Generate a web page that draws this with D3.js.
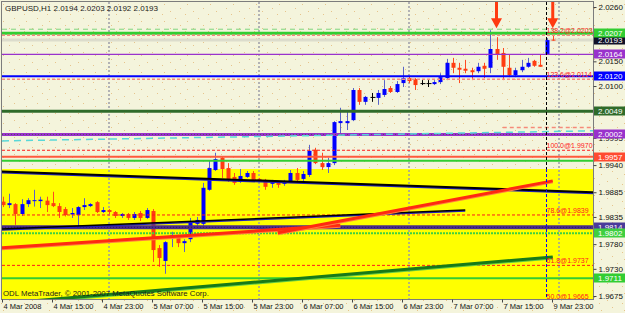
<!DOCTYPE html>
<html>
<head>
<meta charset="utf-8">
<script src="https://cdn.jsdelivr.net/npm/d3@7"></script>
<style>
  body { margin: 0; background: #f4f4dc; }
  svg { display: block; font-family: "Liberation Sans", Arial, sans-serif; font-size: 8px; }
</style>
</head>
<body>
<div id="chart"></div>
<script>
// GBPUSD H1 bars, 4 Mar 2008 06:00 .. 9 Mar 2008
var opens  = [1.9866,1.9859,1.9861,1.9841,1.9861,1.9867,1.9867,1.9868,1.9863,1.9857,1.9851,1.9840,1.9839,1.9855,1.9857,1.9865,1.9845,1.9849,1.9845,1.9837,
              1.9841,1.9833,1.9843,1.9833,1.9847,1.9772,1.9746,1.9793,1.9795,1.9782,1.9790,1.9821,1.9821,1.9890,1.9930,1.9955,1.9934,1.9916,1.9906,1.9916,
              1.9924,1.9912,1.9910,1.9902,1.9906,1.9902,1.9906,1.9924,1.9912,1.9920,1.9971,1.9944,1.9936,1.9944,2.0025,2.0025,2.0031,2.0092,2.0068,2.0078,
              2.0076,2.0082,2.0096,2.0088,2.0106,2.0116,2.0114,2.0106,2.0106,2.0104,2.0108,2.0116,2.0147,2.0137,2.0135,2.0132,2.0130,2.0141,2.0137,2.0175,
              2.0167,2.0137,2.0122,2.0132,2.0139,2.0151,2.0143,2.0163,2.0194];
var highs  = [1.9876,1.9882,1.9863,1.9871,1.9873,1.9890,1.9876,1.9876,1.9886,1.9863,1.9855,1.9853,1.9857,1.9873,1.9863,1.9867,1.9855,1.9851,1.9847,1.9843,
              1.9843,1.9845,1.9847,1.9853,1.9851,1.9778,1.9786,1.9805,1.9799,1.9790,1.9833,1.9835,1.9904,1.9950,1.9965,1.9957,1.9944,1.9924,1.9932,1.9928,
              1.9928,1.9914,1.9912,1.9910,1.9908,1.9910,1.9930,1.9934,1.9928,1.9981,1.9975,1.9965,1.9955,2.0029,2.0056,2.0048,2.0096,2.0096,2.0080,2.0086,
              2.0092,2.0112,2.0100,2.0110,2.0139,2.0120,2.0116,2.0112,2.0112,2.0112,2.0126,2.0155,2.0157,2.0147,2.0153,2.0137,2.0147,2.0147,2.0213,2.0199,
              2.0177,2.0163,2.0137,2.0153,2.0157,2.0153,2.0163,2.0197,2.0203];
var lows   = [1.9855,1.9853,1.9819,1.9837,1.9855,1.9856,1.9853,1.9845,1.9855,1.9833,1.9836,1.9833,1.9815,1.9849,1.9855,1.9843,1.9843,1.9841,1.9833,1.9833,
              1.9829,1.9829,1.9827,1.9831,1.9744,1.9734,1.9720,1.9774,1.9774,1.9764,1.9784,1.9817,1.9817,1.9888,1.9928,1.9914,1.9906,1.9900,1.9904,1.9914,
              1.9906,1.9906,1.9890,1.9894,1.9894,1.9898,1.9904,1.9906,1.9904,1.9916,1.9942,1.9930,1.9924,1.9940,2.0001,2.0011,2.0029,2.0062,2.0062,2.0068,
              2.0062,2.0078,2.0086,2.0086,2.0098,2.0106,2.0092,2.0102,2.0098,2.0102,2.0104,2.0112,2.0126,2.0106,2.0126,2.0112,2.0126,2.0116,2.0126,2.0153,
              2.0112,2.0118,2.0118,2.0128,2.0137,2.0139,2.0139,2.0163,2.0192];
var closes = [1.9859,1.9863,1.9841,1.9861,1.9869,1.9869,1.9870,1.9859,1.9857,1.9845,1.9839,1.9843,1.9855,1.9859,1.9861,1.9845,1.9849,1.9845,1.9837,1.9841,
              1.9833,1.9841,1.9833,1.9849,1.9768,1.9752,1.9784,1.9798,1.9782,1.9786,1.9823,1.9829,1.9894,1.9934,1.9952,1.9932,1.9910,1.9904,1.9918,1.9924,
              1.9910,1.9908,1.9896,1.9908,1.9900,1.9906,1.9924,1.9910,1.9922,1.9969,1.9944,1.9936,1.9944,2.0027,2.0029,2.0029,2.0092,2.0068,2.0078,2.0078,
              2.0086,2.0094,2.0088,2.0104,2.0116,2.0110,2.0102,2.0106,2.0106,2.0108,2.0118,2.0147,2.0137,2.0133,2.0131,2.0128,2.0139,2.0135,2.0175,2.0163,
              2.0139,2.0122,2.0132,2.0139,2.0147,2.0141,2.0139,2.0193,2.0193];

var timeLabels    = ["4 Mar 2008","4 Mar 15:00","4 Mar 23:00","5 Mar 07:00","5 Mar 15:00","5 Mar 23:00",
                     "6 Mar 07:00","6 Mar 15:00","6 Mar 23:00","7 Mar 07:00","7 Mar 15:00","9 Mar 23:00"];
var timeLabelBars = [1, 9, 17, 25, 33, 41, 49, 57, 65, 73, 81, 89];
var gridBars      = [17, 41, 65, 89];
// 2.0205 and 2.0045 sit under the line labels in the terminal, so only the visible ticks are kept
var priceTicks    = [2.0260, 2.0150, 2.0100, 1.9995, 1.9940, 1.9885, 1.9835, 1.9780, 1.9730, 1.9675];

// horizontal line objects
var levelPrices = [2.0215, 2.0207, 2.0164, 2.0120, 2.0049, 2.0002, 1.9957, 1.9949, 1.9814, 1.9802, 1.9711];
var levelBoxed  = [false,  true,   true,   true,   true,   true,   true,   false,  true,   true,   true];

// fibonacci levels
var fibLevels = ["50.0", "61.8", "78.6", "100.0", "123.6", "138.2"];
var fibPrices = [1.9665, 1.9737, 1.9839, 1.9970, 2.0114, 2.0203];
var fibBar = 87;

// trendlines [bar, price]
var trendStart = [[0, 1.9927], [-1, 1.9810], [0, 1.9773], [44, 1.9803], [0, 1.9660], [0, 1.9989], [80, 2.0016]];
var trendEnd   = [[88, 1.9888], [74, 1.9849], [54, 1.9818], [88, 1.9908], [88, 1.9754], [88, 2.0008], [88, 2.0016]];

var zoneTop = 1.9932, zoneBottom = 1.9600;
var bidPrice = 2.0193;
var arrowBars = [79, 88];
var arrowPrice = 2.0217;
var vlineBar = 87;

var W = 625, H = 313;
var P = {left: 2, right: 593, top: 2, bottom: 299};

var x = d3.scaleLinear().domain([0, 88]).range([2.75, 552.75]);
var y = d3.scaleLinear().domain([1.9675, 2.0260]).range([296, 7]);

var svg = d3.select("#chart").append("svg")
  .attr("width", W).attr("height", H);

var defs = svg.append("defs");
defs.append("clipPath").attr("id", "plotclip")
  .append("rect").attr("x", P.left).attr("y", P.top)
  .attr("width", P.right - P.left).attr("height", P.bottom - P.top);

var pat = defs.append("pattern").attr("id", "speck")
  .attr("width", 23).attr("height", 17).attr("patternUnits", "userSpaceOnUse");
pat.append("rect").attr("width", 23).attr("height", 17).attr("fill", "#f4f4dc");
[[3, 4], [14, 1], [9, 11], [19, 8], [1, 14]].forEach(function(p) {
  pat.append("rect").attr("x", p[0]).attr("y", p[1]).attr("width", 1).attr("height", 1).attr("fill", "#e6c48c");
});

svg.append("rect").attr("width", W).attr("height", H).attr("fill", "url(#speck)");

var plot = svg.append("g").attr("clip-path", "url(#plotclip)");

// yellow zone
plot.append("rect")
  .attr("x", P.left).attr("width", P.right - P.left)
  .attr("y", y(zoneTop)).attr("height", y(zoneBottom) - y(zoneTop))
  .attr("fill", "#ffff00");

// vertical grid
plot.selectAll(".vgrid").data(gridBars).enter().append("line")
  .attr("x1", function(d) { return x(d); }).attr("x2", function(d) { return x(d); })
  .attr("y1", P.top).attr("y2", P.bottom)
  .attr("stroke", "#9c9ca8").attr("stroke-width", 1.5).attr("stroke-dasharray", "2,2");

// bid line
plot.append("line")
  .attr("x1", P.left).attr("x2", P.right)
  .attr("y1", y(bidPrice)).attr("y2", y(bidPrice))
  .attr("stroke", "#dcdccc").attr("stroke-width", 3);

// candles
var bars = d3.range(opens.length);
var candle = plot.selectAll(".bar").data(bars).enter().append("g");

function barColor(i) {
  var d = closes[i] - opens[i];
  if (Math.abs(d) < 0.00005) return "#000000";
  return d > 0 ? "#0000ff" : "#ff3c10";
}
function wickColor(i) {
  var d = closes[i] - opens[i];
  if (Math.abs(d) < 0.00005) return "#000000";
  return d > 0 ? "#5a64c8" : "#ff4a20";
}

candle.append("line")
  .attr("x1", function(i) { return Math.round(x(i)) + 0.5; })
  .attr("x2", function(i) { return Math.round(x(i)) + 0.5; })
  .attr("y1", function(i) { return y(highs[i]); })
  .attr("y2", function(i) { return y(lows[i]); })
  .attr("stroke", wickColor).attr("stroke-width", 1);

candle.append("rect")
  .attr("x", function(i) { return Math.round(x(i)) - 1.5; })
  .attr("width", function(i) { return Math.abs(closes[i] - opens[i]) < 0.00005 ? 5 : 4; })
  .attr("y", function(i) { return Math.min(y(opens[i]), y(closes[i])); })
  .attr("height", function(i) { return Math.max(1, Math.abs(y(opens[i]) - y(closes[i]))); })
  .attr("fill", barColor);

// horizontal levels
var levelStyle = [
  {c: "#7fd67f", w: 1,   dash: "5,4"},
  {c: "#32cd32", w: 3,   dash: null},
  {c: "#9932cc", w: 1.2, dash: null},
  {c: "#0000ff", w: 2,   dash: null},
  {c: "#2f6b2a", w: 3,   dash: null},
  {c: "#9932cc", w: 3,   dash: null},
  {c: "#ff5a3c", w: 2,   dash: null},
  {c: "#32cd32", w: 2,   dash: null},
  {c: "#4a2c8a", w: 4,   dash: null},
  {c: "#3fcf3f", w: 2,   dash: "2,1"},
  {c: "#32cd32", w: 2,   dash: null}
];
plot.selectAll(".lvl").data(levelPrices).enter().append("line")
  .attr("x1", P.left).attr("x2", P.right)
  .attr("y1", function(d) { return y(d); }).attr("y2", function(d) { return y(d); })
  .attr("stroke", function(d, i) { return levelStyle[i].c; })
  .attr("stroke-width", function(d, i) { return levelStyle[i].w; })
  .attr("stroke-dasharray", function(d, i) { return levelStyle[i].dash; });

// dotted texture on the two thick violet lines
[5, 8].forEach(function(k) {
  plot.append("line")
    .attr("x1", P.left).attr("x2", P.right)
    .attr("y1", y(levelPrices[k])).attr("y2", y(levelPrices[k]))
    .attr("stroke", k === 5 ? "#3a5a2a" : "#201050").attr("stroke-width", 1)
    .attr("stroke-dasharray", "1,2").attr("opacity", 0.7);
});

// fibonacci levels
plot.selectAll(".fib").data(fibPrices).enter().append("line")
  .attr("x1", P.left).attr("x2", P.right)
  .attr("y1", function(d) { return y(d); }).attr("y2", function(d) { return y(d); })
  .attr("stroke", function(d) { return d > 2.0100 ? "#f78a80" : "#ff1a1a"; })
  .attr("stroke-width", function(d) { return d > 2.0100 ? 1.5 : 1; })
  .attr("stroke-dasharray", "3,2");

// trendlines
var trendStyle = [
  {c: "#000000", w: 2,   dash: null, under: "#2020c0"},
  {c: "#000000", w: 1.5, dash: null, under: "#2020c0"},
  {c: "#ff2a10", w: 3,   dash: null, under: "#ff8040"},
  {c: "#ff2a10", w: 3,   dash: null, under: "#ff8040"},
  {c: "#187a18", w: 3,   dash: null, under: "#66cc44"},
  {c: "#59d8d8", w: 1.5, dash: "7,5", under: null},
  {c: "#f58a7a", w: 1.5, dash: "4,3", under: null}
];
var rayRight = [true, false, false, false, false, true, true];
var rayLeft  = [true, true, true, false, true, true, false];

function lineEnds(k) {
  var s = trendStart[k], e = trendEnd[k];
  var slope = (e[1] - s[1]) / (e[0] - s[0]);
  var b1 = rayLeft[k] ? x.invert(P.left) : s[0];
  var b2 = rayRight[k] ? x.invert(P.right) : e[0];
  return [b1, s[1] + slope * (b1 - s[0]), b2, s[1] + slope * (b2 - s[0])];
}
trendStart.forEach(function(s, k) {
  var L = lineEnds(k), st = trendStyle[k];
  if (st.under) {
    plot.append("line")
      .attr("x1", x(L[0])).attr("y1", y(L[1]) + 1).attr("x2", x(L[2])).attr("y2", y(L[3]) + 1)
      .attr("stroke", st.under).attr("stroke-width", st.w);
  }
  plot.append("line")
    .attr("x1", x(L[0])).attr("y1", y(L[1])).attr("x2", x(L[2])).attr("y2", y(L[3]))
    .attr("stroke", st.c).attr("stroke-width", st.w)
    .attr("stroke-dasharray", st.dash);
});

// vertical line at the fib anchor
plot.append("line")
  .attr("x1", x(vlineBar)).attr("x2", x(vlineBar))
  .attr("y1", P.top).attr("y2", y(zoneTop))
  .attr("stroke", "#000").attr("stroke-width", 1).attr("stroke-dasharray", "3,2");
plot.append("line")
  .attr("x1", x(vlineBar)).attr("x2", x(vlineBar))
  .attr("y1", y(zoneTop)).attr("y2", P.bottom)
  .attr("stroke", "#0000ff").attr("stroke-width", 1).attr("stroke-dasharray", "3,2");

// fib texts
plot.selectAll(".fibtxt").data(fibPrices).enter().append("text")
  .attr("x", x(fibBar))
  .attr("y", function(d) { return y(d) - 2; })
  .attr("fill", "#ff2020").attr("font-size", 7)
  .text(function(d, i) { return fibLevels[i] + "@" + d.toFixed(4); });

// arrows
var arrow = plot.selectAll(".arrow").data(arrowBars).enter().append("g")
  .attr("transform", function(d) { return "translate(" + x(d) + "," + y(arrowPrice) + ")"; });
arrow.append("path")
  .attr("d", "M-1.5,-30 L1.5,-30 L1.5,-10 L5.5,-10 L0,0 L-5.5,-10 L-1.5,-10 Z")
  .attr("fill", "#ff3a10");

// title and copyright
svg.append("text").attr("x", 5).attr("y", 11).attr("fill", "#1a1a1a")
  .text("GBPUSD,H1  " + [opens[88], highs[88], lows[88], closes[88]].map(function(v) { return v.toFixed(4); }).join(" "));
svg.append("text").attr("x", 3).attr("y", 296).attr("fill", "#1a1a1a").attr("font-size", 7.8)
  .text("ODL MetaTrader, \u00a9 2001-2007 MetaQuotes Software Corp.");

// frame
svg.append("rect")
  .attr("x", P.left - 0.5).attr("y", P.top - 0.5)
  .attr("width", P.right - P.left + 1).attr("height", P.bottom - P.top + 1)
  .attr("fill", "none").attr("stroke", "#7c7c7c").attr("stroke-width", 1);

// price axis
var yAxis = d3.axisRight(y).tickValues(priceTicks).tickSize(3).tickPadding(2)
  .tickFormat(d3.format(".4f"));
var ya = svg.append("g").attr("transform", "translate(" + (P.right + 0.5) + ",0)").call(yAxis);
ya.select(".domain").remove();
ya.selectAll("line").attr("stroke", "#444");
ya.selectAll("text").attr("fill", "#111").attr("font-size", 8).attr("font-family", "Liberation Sans, Arial, sans-serif");

// price boxes
var boxColor = ["#7fd67f", "#32cd32", "#9932cc", "#0000ff", "#2f6b2a", "#9932cc", "#ff4a30", "#32cd32", "#4a3a9a", "#3fcf3f", "#32cd32"];
var boxed = levelPrices.map(function(p, i) { return {p: p, c: boxColor[i]}; })
  .filter(function(d, i) { return levelBoxed[i]; });
boxed.splice(1, 0, {p: bidPrice, c: "#101028"});
// the bid box goes first so the line labels sit on top of it
var boxOrder = [boxed[1]].concat(boxed.filter(function(d, i) { return i !== 1; }));
var box = svg.selectAll(".pbox").data(boxOrder).enter().append("g")
  .attr("transform", function(d) { return "translate(" + (P.right + 1) + "," + Math.round(y(d.p)) + ")"; });
box.append("rect").attr("x", 0).attr("y", -4.5).attr("width", 31).attr("height", 9)
  .attr("fill", function(d) { return d.c; });
box.append("text").attr("x", 4).attr("y", 3).attr("fill", "#ffffff")
  .text(function(d) { return d.p.toFixed(4); });

// time axis
var xAxis = d3.axisBottom(x).tickValues(timeLabelBars).tickSize(3).tickPadding(1)
  .tickFormat(function(d, i) { return timeLabels[i]; });
var xa = svg.append("g").attr("transform", "translate(-7," + (P.bottom + 0.5) + ")").call(xAxis);
xa.select(".domain").remove();
xa.selectAll("line").attr("stroke", "#444");
xa.selectAll("text").attr("text-anchor", "start").attr("x", 1).attr("dy", "0.71em")
  .attr("fill", "#111").attr("font-size", 7.5).attr("font-family", "Liberation Sans, Arial, sans-serif");
</script>
</body>
</html>
